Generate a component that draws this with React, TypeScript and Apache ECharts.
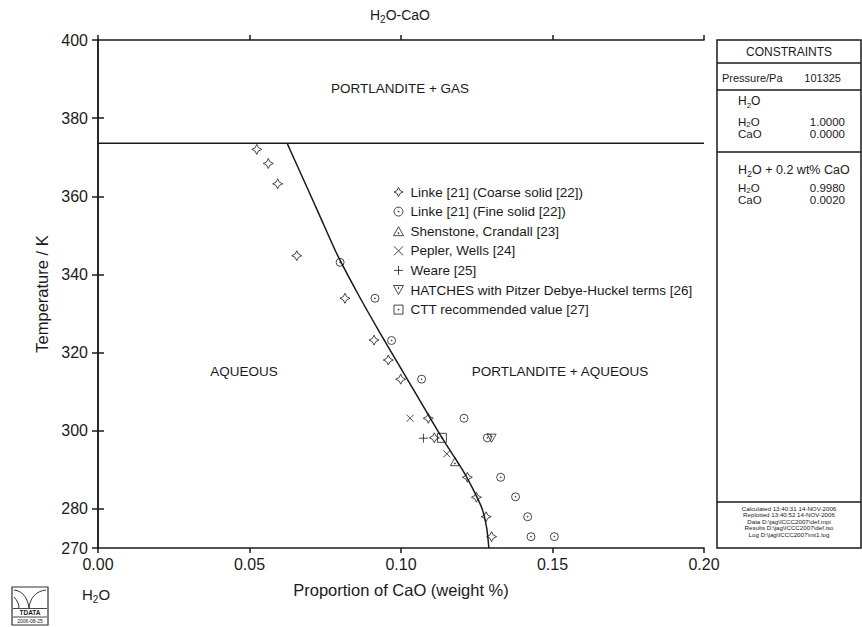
import React, { useEffect, useRef } from "react";
import * as echarts from "echarts";

const FONT = "'Liberation Sans', Arial, Helvetica, sans-serif";
const INK = "#1a1a1a";

// Solubility boundary (CaO weight %, Temperature K)
const curveX = [0.0624, 0.0674, 0.0732, 0.079, 0.0858, 0.0931, 0.1007, 0.1083, 0.1137, 0.1203, 0.1238, 0.1268, 0.1283, 0.129];
const curveT = [373.6, 365, 355, 345, 335, 325, 315, 305, 298, 290, 285, 280, 275, 270];

// Gas boundary
const gasX = [0, 0.2];
const gasT = [373.6, 373.6];

// Experimental data
const linkeCoarseX = [0.0524, 0.0562, 0.0593, 0.0656, 0.0815, 0.0911, 0.0958, 0.0999, 0.109, 0.111, 0.1219, 0.1249, 0.1281, 0.1299];
const linkeCoarseT = [372.0, 368.4, 363.2, 344.8, 333.9, 323.2, 318.1, 313.2, 303.2, 298.2, 288.1, 283.0, 278.0, 272.9];
const linkeFineX = [0.0799, 0.0914, 0.0969, 0.1068, 0.1208, 0.1285, 0.1329, 0.1378, 0.1418, 0.1429, 0.1506];
const linkeFineT = [343.1, 333.9, 323.1, 313.2, 303.2, 298.2, 288.1, 283.1, 278.0, 272.9, 272.9];
const shenstoneX = [0.1178];
const shenstoneT = [292.1];
const peplerX = [0.103, 0.1151];
const peplerT = [303.2, 294.1];
const weareX = [0.1074];
const weareT = [298.1];
const hatchesX = [0.1299];
const hatchesT = [298.1];
const cttX = [0.1135];
const cttT = [298.2];

const seriesNames = [
  "Linke [21] (Coarse solid [22])",
  "Linke [21] (Fine solid [22])",
  "Shenstone, Crandall [23]",
  "Pepler, Wells [24]",
  "Weare [25]",
  "HATCHES with Pitzer Debye-Huckel terms [26]",
  "CTT recommended value [27]",
];

const xTicks = [0, 0.05, 0.1, 0.15, 0.2];
const yLabelTicks = [270, 280, 300, 320, 340, 360, 380, 400];
const yRightTicks = [280, 300, 320, 340, 360, 380];

const DOT = "M1.2,0A1.2,1.2 0 1 1 -1.2,0A1.2,1.2 0 1 1 1.2,0Z";
const SYM_STAR = "path://M0,-10Q1.6,-1.6 10,0Q1.6,1.6 0,10Q-1.6,1.6 -10,0Q-1.6,-1.6 0,-10Z";
const SYM_CIRCLE = "path://M10,0A10,10 0 1 1 -10,0A10,10 0 1 1 10,0Z" + DOT;
const SYM_TRI = "path://M0,-10L10,8L-10,8Z" + "M1.2,3A1.2,1.2 0 1 1 -1.2,3A1.2,1.2 0 1 1 1.2,3Z";
const SYM_CROSS = "path://M-10,-10L10,10M10,-10L-10,10";
const SYM_PLUS = "path://M0,-10L0,10M-10,0L10,0";
const SYM_TRIDOWN = "path://M-10,-8L10,-8L0,10Z" + "M1.2,-3A1.2,1.2 0 1 1 -1.2,-3A1.2,1.2 0 1 1 1.2,-3Z";
const SYM_SQUARE = "path://M-10,-10L10,-10L10,10L-10,10Z" + DOT;

const zip = (xs: number[], ys: number[]) => xs.map((x, i) => [x, ys[i]]);

function rich(fs: number, lh: number) {
  const sfs = Math.round(fs * 0.68);
  return {
    n: { fontSize: fs, fontFamily: FONT, fill: INK, lineHeight: lh },
    s: { fontSize: sfs, fontFamily: FONT, fill: INK, lineHeight: Math.max(1, lh - 0.69 * fs), verticalAlign: "bottom" },
  };
}

function txt(x: number, y: number, text: string, fs: number, align = "left", lh?: number, extra: any = {}) {
  const L = lh ?? Math.round(fs * 1.3);
  return {
    type: "text",
    x,
    y,
    silent: true,
    style: {
      text,
      fontSize: fs,
      fontFamily: FONT,
      fill: INK,
      align,
      verticalAlign: "middle",
      lineHeight: L,
      rich: rich(fs, L),
      ...extra,
    },
  };
}

function hline(x1: number, x2: number, y: number, w = 1.5) {
  return { type: "line", silent: true, shape: { x1, y1: y, x2, y2: y }, style: { stroke: INK, lineWidth: w } };
}

export default function App() {
  const ref = useRef<HTMLDivElement>(null);
  useEffect(() => {
    if (!ref.current) return;
    const chart = echarts.init(ref.current, undefined, { renderer: "svg" });
    const axisLine = { show: true, lineStyle: { color: INK, width: 1.5 } };
    const scatter = (name: string, data: number[][], symbol: string, size: number) => ({
      name,
      type: "scatter",
      data,
      symbol,
      symbolSize: size,
      symbolKeepAspect: true,
      z: 5,
      itemStyle: { color: "rgba(0,0,0,0)", borderColor: INK, borderWidth: 1 },
      emphasis: { disabled: true },
    });
    const option: any = {
      animation: false,
      grid: { left: 98, top: 40, width: 606, height: 508 },
      xAxis: [
        {
          type: "value",
          position: "bottom",
          min: 0,
          max: 0.2,
          interval: 0.05,
          axisLine,
          axisTick: { show: true, inside: false, length: 5, lineStyle: { color: INK, width: 1.5 } },
          axisLabel: {
            show: true,
            margin: 8,
            fontSize: 16,
            fontFamily: FONT,
            color: INK,
            formatter: (v: number) => v.toFixed(2),
            customValues: xTicks,
          },
          splitLine: { show: false },
          name: "Proportion of CaO (weight %)",
          nameLocation: "middle",
          nameGap: 33,
          nameTextStyle: { fontSize: 16.5, fontFamily: FONT, color: INK },
        },
        {
          type: "value",
          position: "top",
          min: 0,
          max: 0.2,
          interval: 0.05,
          axisLine,
          axisTick: { show: true, inside: false, length: 5, lineStyle: { color: INK, width: 1.5 } },
          axisLabel: { show: false },
          splitLine: { show: false },
        },
      ],
      yAxis: [
        {
          type: "value",
          position: "left",
          min: 270,
          max: 400,
          axisLine,
          axisTick: { show: true, inside: false, length: 6, lineStyle: { color: INK, width: 1.5 }, customValues: yLabelTicks },
          axisLabel: { show: true, margin: 10, fontSize: 16, fontFamily: FONT, color: INK, customValues: yLabelTicks },
          splitLine: { show: false },
          name: "Temperature / K",
          nameLocation: "middle",
          nameGap: 48,
          nameTextStyle: { fontSize: 16.5, fontFamily: FONT, color: INK },
        },
        {
          type: "value",
          position: "right",
          min: 270,
          max: 400,
          axisLine,
          axisTick: { show: true, inside: false, length: 6, lineStyle: { color: INK, width: 1.5 }, customValues: yRightTicks },
          axisLabel: { show: false },
          splitLine: { show: false },
        },
      ],
      legend: {
        orient: "vertical",
        left: 388,
        top: 180,
        padding: 5,
        itemWidth: 14,
        itemHeight: 9,
        itemGap: 5.6,
        selectedMode: false,
        itemStyle: { color: "rgba(0,0,0,0)", borderColor: INK, borderWidth: 1 },
        textStyle: { fontSize: 13.5, fontFamily: FONT, color: INK, lineHeight: 14 },
        data: seriesNames,
      },
      series: [
        {
          name: "boundary",
          type: "line",
          data: zip(curveX, curveT),
          smooth: 0.2,
          symbol: "none",
          lineStyle: { color: INK, width: 1.5 },
          z: 3,
          silent: true,
        },
        {
          name: "gas",
          type: "line",
          data: zip(gasX, gasT),
          symbol: "none",
          lineStyle: { color: INK, width: 1.5 },
          z: 3,
          silent: true,
        },
        scatter(seriesNames[0], zip(linkeCoarseX, linkeCoarseT), SYM_STAR, 10),
        scatter(seriesNames[1], zip(linkeFineX, linkeFineT), SYM_CIRCLE, 8),
        scatter(seriesNames[2], zip(shenstoneX, shenstoneT), SYM_TRI, 9),
        scatter(seriesNames[3], zip(peplerX, peplerT), SYM_CROSS, 7),
        scatter(seriesNames[4], zip(weareX, weareT), SYM_PLUS, 9),
        scatter(seriesNames[5], zip(hatchesX, hatchesT), SYM_TRIDOWN, 9),
        scatter(seriesNames[6], zip(cttX, cttT), SYM_SQUARE, 9),
      ],
      graphic: [
        // title
        txt(400, 15, "{n|H}{s|2}{n|O-CaO}", 14, "center"),
        // region labels
        txt(400, 88, "PORTLANDITE + GAS", 13.5, "center"),
        txt(244, 371, "AQUEOUS", 13.5, "center"),
        txt(560, 371, "PORTLANDITE + AQUEOUS", 13.5, "center"),
        // bottom-left component label
        txt(82, 594, "{n|H}{s|2}{n|O}", 15, "left"),
        // constraints panel
        {
          type: "rect",
          silent: true,
          shape: { x: 717, y: 40, width: 144, height: 508 },
          style: { fill: "none", stroke: INK, lineWidth: 1.5 },
        },
        hline(717, 861, 63),
        hline(717, 861, 90),
        hline(717, 861, 152),
        hline(717, 861, 502),
        txt(789, 52, "CONSTRAINTS", 12, "center"),
        txt(722, 78, "Pressure/Pa", 11, "left"),
        txt(841, 78, "101325", 11, "right"),
        txt(738, 101, "{n|H}{s|2}{n|O}", 12, "left"),
        txt(738, 128, "{n|H}{s|2}{n|O}\n{n|CaO}", 11.5, "left", 11.6),
        txt(845, 128, "1.0000\n0.0000", 11.5, "right", 11.6, { rich: undefined }),
        txt(738, 170, "{n|H}{s|2}{n|O + 0.2 wt% CaO}", 12.5, "left"),
        txt(738, 194, "{n|H}{s|2}{n|O}\n{n|CaO}", 11.5, "left", 11.6),
        txt(845, 194, "0.9980\n0.0020", 11.5, "right", 11.6, { rich: undefined }),
        txt(
          789,
          521,
          "Calculated 13:40:31 14-NOV-2006\nReplotted 13:40:52 14-NOV-2006\nData D:\\jag\\ICCC2007\\def.mpi\nResults D:\\jag\\ICCC2007\\def.iso\nLog D:\\jag\\ICCC2007\\mt1.log",
          6.2,
          "center",
          6.5,
          { rich: undefined }
        ),
        // logo
        {
          type: "rect",
          silent: true,
          shape: { x: 12, y: 587, width: 36, height: 38 },
          style: { fill: "none", stroke: "#333", lineWidth: 1.2 },
        },
        {
          type: "bezierCurve",
          silent: true,
          shape: { x1: 14, y1: 590, cpx1: 24, cpy1: 591, cpx2: 28, cpy2: 600, x2: 29, y2: 608 },
          style: { fill: "none", stroke: "#333", lineWidth: 1 },
        },
        {
          type: "bezierCurve",
          silent: true,
          shape: { x1: 29, y1: 608, cpx1: 30, cpy1: 598, cpx2: 36, cpy2: 591, x2: 46, y2: 590 },
          style: { fill: "none", stroke: "#333", lineWidth: 1 },
        },
        {
          type: "bezierCurve",
          silent: true,
          shape: { x1: 14, y1: 597, cpx1: 17, cpy1: 600, cpx2: 19, cpy2: 604, x2: 19, y2: 608 },
          style: { fill: "none", stroke: "#333", lineWidth: 1 },
        },
        hline(13, 47, 608.5, 0.8),
        txt(30, 612.5, "TDATA", 6.5, "center", undefined, { fontWeight: "bold", rich: undefined }),
        hline(13, 47, 617, 0.8),
        txt(30, 621, "2006-08-25", 5, "center", undefined, { rich: undefined }),
      ],
    };
    chart.setOption(option);
    return () => chart.dispose();
  }, []);
  return (
    <div
      ref={ref}
      style={{ position: "absolute", left: 0, top: 0, width: 862, height: 627, background: "#fff" }}
    />
  );
}
